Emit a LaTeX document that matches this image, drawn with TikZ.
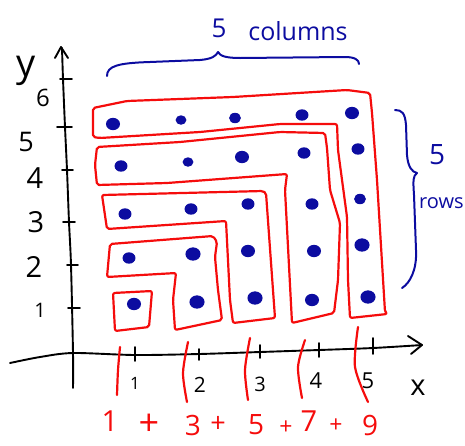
\documentclass[tikz,border=0pt]{standalone}
\usepackage{fontspec}
\setmainfont{Open Sans}
\definecolor{pen}{RGB}{12,12,160}
\definecolor{redpen}{RGB}{245,12,12}
\newcommand{\fs}[1]{\fontsize{#1}{#1}\selectfont}
\begin{document}
\begin{tikzpicture}[x=1pt,y=-1pt,
  redline/.style={draw=redpen, line width=2.2pt, line join=round, line cap=round, rounded corners=2pt},
  redarc/.style={draw=redpen, line width=2.2pt, line cap=round},
  axisline/.style={draw=black, line width=1.9pt, line cap=round, line join=round},
  bluepen/.style={draw=pen, line width=2pt, line cap=round, line join=round},
  dotfill/.style={fill=pen},
  lab/.style={inner sep=0pt, text=black},
  bluelab/.style={inner sep=0pt, text=pen},
  redlab/.style={inner sep=0pt, text=redpen}]
\useasboundingbox (0,0) rectangle (465,445);

% axes
\draw[axisline] plot[smooth] coordinates {(73,388) (73,353) (71,265) (69,222) (67,170) (65,127) (63,79) (62,48)};
\draw[axisline] (55,58) -- (61,47) -- (68,58);
\draw[axisline] (60,79) -- (72,79);
\draw[axisline] (57,127) -- (72,127);
\draw[axisline] (62,170) -- (73,170);
\draw[axisline] (63,222) -- (75,222);
\draw[axisline] (67,265) -- (78,265);
\draw[axisline] (68,308) -- (80,308);
\draw[axisline] plot[smooth] coordinates {(10,363) (40,357) (73,353) (135,355) (199,354) (260,352) (319,350) (373,348) (422,345)};
\draw[axisline] (408,336) -- (422,345) -- (411,354);
\draw[axisline] (135,347) -- (135,361);
\draw[axisline] (199,349) -- (199,360);
\draw[axisline] (260,345) -- (260,358);
\draw[axisline] (319,343) -- (319,357);
\draw[axisline] (373,338) -- (373,354);

% axis labels
\node[lab, font=\fs{38}] (ly) at (26,71) {y};
\node[lab, font=\fs{24}] (y6) at (43,98) {6};
\node[lab, font=\fs{27}] (y5) at (26,142) {5};
\node[lab, font=\fs{29}] (y4) at (35,178) {4};
\node[lab, font=\fs{29}] (y3) at (36,222) {3};
\node[lab, font=\fs{29}] (y2) at (34,267) {2};
\node[lab, font=\fs{20}] (y1) at (40,310) {1};
\node[lab, font=\fs{17}] (x1) at (135,383) {1};
\node[lab, font=\fs{21}] (x2) at (200,385) {2};
\node[lab, font=\fs{20}] (x3) at (260,384) {3};
\node[lab, font=\fs{22}] (x4) at (316,381) {4};
\node[lab, font=\fs{22}] (x5) at (368,381) {5};
\node[lab, font=\fs{29}] (lx) at (418,388) {x};

% red gnomons
\draw[redline] (93,108) -- (127,101) -- (233,97) -- (347,90) -- (370,93) -- (372,113) -- (377,180) -- (385,312) -- (387,314) -- (350,318) -- (348,280) -- (347,217) -- (338,150) -- (337,124) -- (280,124) -- (200,132) -- (100,138) -- (93,137) -- cycle;
\draw[redline] (97,147) -- (180,142) -- (280,132) -- (325,133) -- (327,148) -- (330,190) -- (340,223) -- (338,280) -- (334,313) -- (292,323) -- (285,190) -- (287,174) -- (167,183) -- (97,185) -- (95,165) -- cycle;
\draw[redline] (102,195) -- (263,191) -- (266,193) -- (275,318) -- (233,323) -- (230,300) -- (226,221) -- (107,229) -- cycle;
\draw[redline] (110,244) -- (213,236) -- (217,242) -- (215,257) -- (218,290) -- (222,320) -- (175,330) -- (173,300) -- (176,273) -- (107,277) -- cycle;
\draw[redline] (113,293) -- (152,291) -- (149,327) -- (115,331) -- cycle;

% red strokes at the x axis
\draw[redarc] plot[smooth] coordinates {(120,347) (118,370) (117,395)};
\draw[redarc] plot[smooth] coordinates {(188,342) (183,373) (187,402)};
\draw[redarc] plot[smooth] coordinates {(250,338) (245,370) (248,400)};
\draw[redarc] plot[smooth] coordinates {(305,340) (298,367) (302,398)};
\draw[redarc] plot[smooth] coordinates {(358,327) (355,367) (368,402)};

% dots
\foreach \x/\y/\r in {113/124/6.5, 181/120/5, 235/118/5.5, 302/115/6, 352/113/6.5,
                      121/166/6, 188/162/5, 242/157/6.5, 304/153/6, 358/149/6,
                      125/214/6, 191/209/6, 248/204/6, 312/204/6, 360/199/5.5,
                      129/258/6, 193/254/7, 248/251/6.5, 314/251/6.5, 362/245/7,
                      134/304/6.5, 197/302/7, 255/298/7, 312/300/6.5, 368/297/7}
  \fill[dotfill] (\x,\y) ellipse [x radius=\r*1.08, y radius=\r*0.95];

% braces
\draw[bluepen] (107,76) .. controls (107,66) and (118,63) .. (150,62) -- (200,60) .. controls (212,59) and (216,56) .. (218,52) .. controls (220,56) and (226,58) .. (240,58) -- (345,57) .. controls (355,57) and (359,60) .. (359,64);
\draw[bluepen] (395,110) .. controls (402,110) and (405,113) .. (406,125) -- (407,155) .. controls (408,167) and (412,172) .. (417,173) .. controls (413,176) and (413,180) .. (414,195) -- (416,250) .. controls (417,270) and (410,283) .. (402,288);
\node[bluelab, font=\fs{26}] (c5) at (219,28) {5};
\node[bluelab, font=\fs{25}] (cols) at (298,31) {columns};
\node[bluelab, font=\fs{28}] (r5) at (437,155) {5};
\node[bluelab, font=\fs{20}, anchor=west] (rows) at (419,203) {rows};

% sum
\node[redlab, font=\fs{29}] (s1) at (110,421) {1};
\node[redlab, font=\fs{36}] (p1) at (149,425) {+};
\node[redlab, font=\fs{28}] (s3) at (193,425) {3};
\node[redlab, font=\fs{27}] (p2) at (218,424) {+};
\node[redlab, font=\fs{28}] (s5) at (256,425) {5};
\node[redlab, font=\fs{23}] (p3) at (286,428) {+};
\node[redlab, font=\fs{29}] (s7) at (309,421) {7};
\node[redlab, font=\fs{23}] (p4) at (336,426) {+};
\node[redlab, font=\fs{28}] (s9) at (370,425) {9};
\end{tikzpicture}
\end{document}
